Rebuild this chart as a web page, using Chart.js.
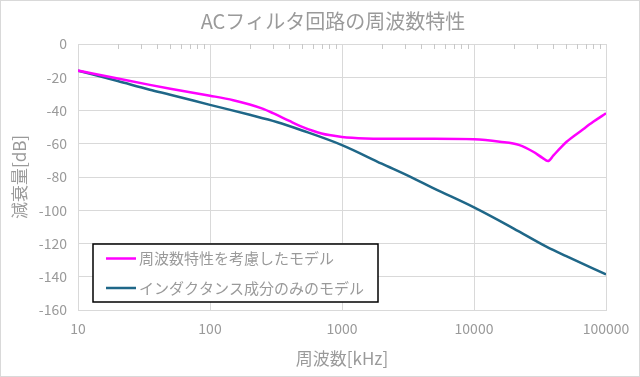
<!DOCTYPE html>
<html><head><meta charset="utf-8">
<script src="https://cdn.jsdelivr.net/npm/chart.js@4"></script>
<style>html,body{margin:0;padding:0;background:#fff}canvas{display:block}</style>
</head><body>
<canvas id="c" width="640" height="377"></canvas>
<script>
const titleText = 'ACフィルタ回路の周波数特性';
const xAxisTitle = '周波数[kHz]';
const yAxisTitle = '減衰量[dB]';
const seriesNames = ['周波数特性を考慮したモデル', 'インダクタンス成分のみのモデル'];
const seriesColors = ['#ff00ff', '#1f6788'];
const xTickValues = [10, 100, 1000, 10000, 100000];
const yMin = -160, yMax = 0, yStep = 20;

const freqFull  = [10, 20, 35, 50, 100, 150, 200, 250, 300, 400, 500, 600, 700, 800, 1000, 1500, 2000, 5000, 10000, 15700, 22100, 28100, 33000, 36300, 40000, 44800, 50300, 66000, 80000, 100000];
const attenFull = [-16, -20.8, -24.6, -26.9, -31.1, -33.8, -36.4, -38.9, -41.6, -46.3, -49.8, -52.2, -53.8, -54.8, -55.9, -56.8, -57, -57, -57.3, -58.8, -60.8, -64.8, -68.5, -70.4, -67, -62.8, -58.8, -51.7, -46.8, -41.7];

const freqInd  = [10, 20, 35, 50, 100, 200, 320, 500, 1000, 2000, 3275, 5000, 10000, 20000, 35600, 50000, 100000];
const attenInd = [-16, -22.3, -27.5, -30.5, -36.6, -42.6, -46.9, -52, -60.8, -72, -79.8, -87, -98.3, -111, -122, -127.6, -138.6];

const FONT = "'Noto Sans CJK JP', 'Noto Sans', sans-serif";
const TXT = '#9a9a9a';
const GRID = '#d9d9d9';

const toPts = (xs, ys) => xs.map((x, i) => ({x: x, y: ys[i]}));

const bgBorder = {
  id: 'bgBorder',
  beforeDraw(chart) {
    const c = chart.ctx;
    c.save(); c.fillStyle = '#fff'; c.fillRect(0, 0, chart.width, chart.height); c.restore();
  },
  afterDraw(chart) {
    const c = chart.ctx;
    c.save(); c.strokeStyle = GRID; c.lineWidth = 1;
    c.strokeRect(0.5, 0.5, chart.width - 1, chart.height - 1); c.restore();
  }
};

const minorTicks = {
  id: 'minorTicks',
  beforeDatasetsDraw(chart) {
    const xs = chart.scales.x, top = chart.chartArea.top, c = chart.ctx;
    c.save(); c.strokeStyle = '#c8c8c8'; c.lineWidth = 1;
    for (let i = 0; i < xTickValues.length - 1; i++) {
      for (let m = 2; m <= 9; m++) {
        const px = Math.round(xs.getPixelForValue(xTickValues[i] * m)) + 0.5;
        c.beginPath(); c.moveTo(px, top); c.lineTo(px, top + 5); c.stroke();
      }
    }
    c.restore();
  }
};

const boxLegend = {
  id: 'boxLegend',
  afterDraw(chart) {
    const a = chart.chartArea, c = chart.ctx;
    const left = a.left + 15, bottom = a.bottom - 8, w = 285, h = 58;
    const top = bottom - h;
    c.save();
    c.fillStyle = '#fff'; c.fillRect(left, top, w, h);
    c.strokeStyle = '#000'; c.lineWidth = 1.5; c.strokeRect(left, top, w, h);
    c.font = '15px ' + FONT; c.textBaseline = 'middle';
    chart.data.datasets.forEach((ds, i) => {
      const y = top + 14.5 + i * 29.5;
      c.strokeStyle = ds.borderColor; c.lineWidth = 2.5;
      c.beginPath(); c.moveTo(left + 13, y); c.lineTo(left + 43, y); c.stroke();
      c.fillStyle = TXT; c.fillText(ds.label, left + 46, y);
    });
    c.restore();
  }
};

new Chart(document.getElementById('c'), {
  type: 'line',
  data: {
    datasets: [
      {label: seriesNames[0], data: toPts(freqFull, attenFull), borderColor: seriesColors[0], borderWidth: 2.5, pointRadius: 0, cubicInterpolationMode: 'monotone', fill: false},
      {label: seriesNames[1], data: toPts(freqInd, attenInd), borderColor: seriesColors[1], borderWidth: 2.5, pointRadius: 0, cubicInterpolationMode: 'monotone', fill: false}
    ]
  },
  options: {
    responsive: false,
    animation: false,
    events: [],
    layout: {padding: {left: 26, right: 0, top: 0, bottom: 0}},
    plugins: {
      legend: {display: false},
      tooltip: {enabled: false},
      title: {display: true, text: titleText, color: TXT, font: {family: FONT, size: 20, weight: 'normal'}, padding: {top: 9, bottom: 11}}
    },
    scales: {
      x: {
        type: 'logarithmic', min: 10, max: 100000,
        afterBuildTicks: s => { s.ticks = xTickValues.map(v => ({value: v})); },
        afterFit: s => { s.height = 67; },
        ticks: {callback: v => String(v), color: TXT, font: {family: FONT, size: 14}, padding: 10, maxRotation: 0, autoSkip: false},
        grid: {color: GRID, lineWidth: 1, drawTicks: false},
        border: {color: GRID},
        title: {display: true, text: xAxisTitle, color: TXT, font: {family: FONT, size: 17}, padding: {top: 0, bottom: 8}}
      },
      y: {
        min: yMin, max: yMax,
        afterFit: s => { s.width = 52; },
        ticks: {stepSize: yStep, callback: v => String(v), color: TXT, font: {family: FONT, size: 14}, padding: 11},
        grid: {color: GRID, lineWidth: 1, drawTicks: false},
        border: {color: GRID},
        title: {display: true, text: yAxisTitle, color: TXT, font: {family: FONT, size: 17}, padding: {top: -17, bottom: 0}}
      },
      spacer: {
        type: 'linear', position: 'right', display: true,
        afterFit: s => { s.width = 34; },
        ticks: {display: false}, grid: {display: false}, border: {display: false}
      }
    }
  },
  plugins: [bgBorder, minorTicks, boxLegend]
});
</script>
</body></html>
